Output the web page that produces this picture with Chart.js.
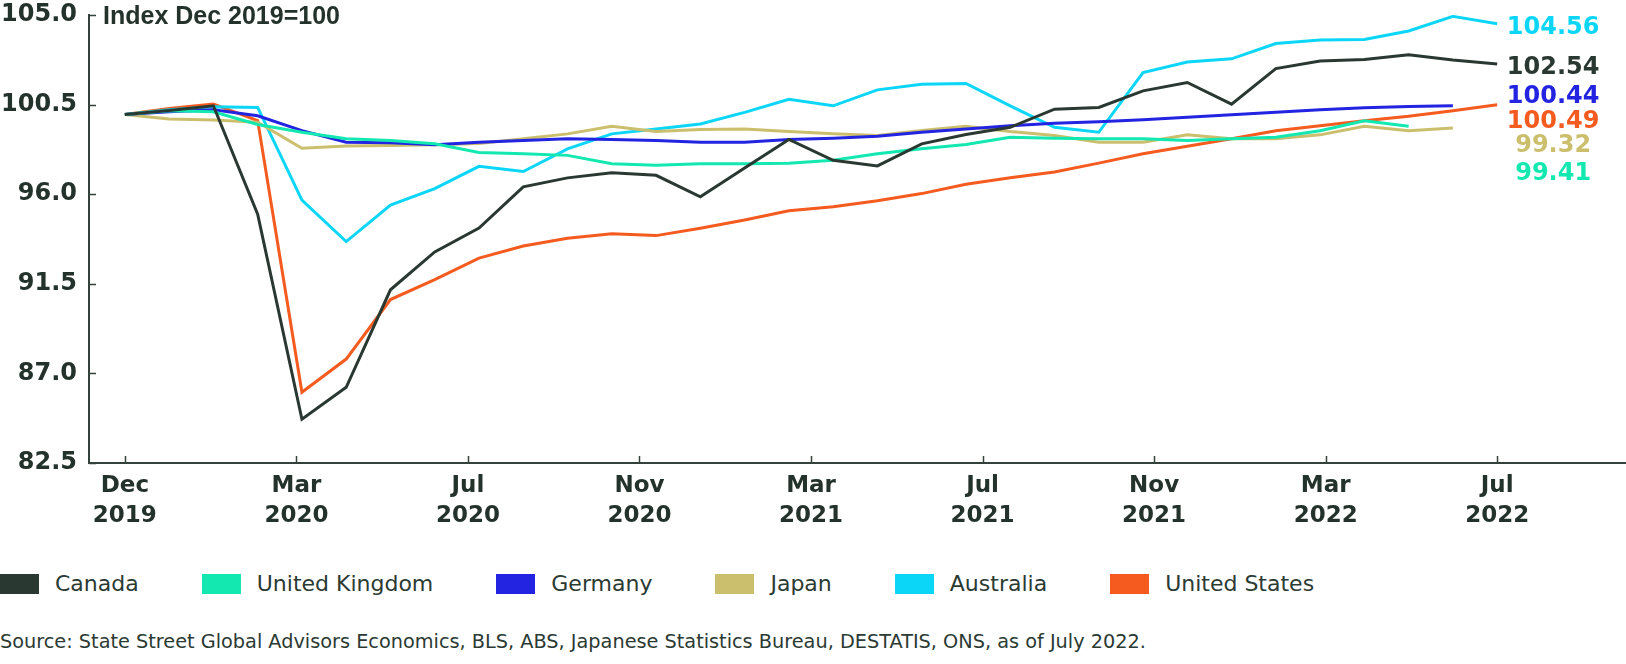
<!DOCTYPE html>
<html>
<head>
<meta charset="utf-8">
<script src="https://cdn.jsdelivr.net/npm/chart.js@4.4.1/dist/chart.umd.min.js"></script>
<style>
    body { margin: 0; background: #ffffff; }
    #wrap { position: relative; width: 1626px; height: 664px; overflow: hidden; font-family: "DejaVu Sans", sans-serif; color: #2b3a33; }
    #chartBox { position: absolute; left: 0; top: -9px; width: 1626px; height: 544px; }
    #legend { position: absolute; left: 0; top: 571px; display: flex; align-items: center; font-size: 22px; }
    .item { display: flex; align-items: center; margin-right: 63px; }
    .swatch { width: 39px; height: 20px; margin-right: 16px; }
    #source { position: absolute; left: 0; top: 630px; font-size: 19.3px; white-space: nowrap; }
</style>
</head>
<body>
<div id="wrap">
    <div id="chartBox"><canvas id="lineChart"></canvas></div>
    <div id="legend"></div>
    <div id="source"></div>
</div>
<script>
// Monthly index, Dec 2019 = 100
const months = [
    'Dec 2019', 'Jan 2020', 'Feb 2020', 'Mar 2020', 'Apr 2020', 'May 2020', 'Jun 2020', 'Jul 2020',
    'Aug 2020', 'Sep 2020', 'Oct 2020', 'Nov 2020', 'Dec 2020', 'Jan 2021', 'Feb 2021', 'Mar 2021',
    'Apr 2021', 'May 2021', 'Jun 2021', 'Jul 2021', 'Aug 2021', 'Sep 2021', 'Oct 2021', 'Nov 2021',
    'Dec 2021', 'Jan 2022', 'Feb 2022', 'Mar 2022', 'Apr 2022', 'May 2022', 'Jun 2022', 'Jul 2022'
];
const tickLabels = [
    ['Dec', '2019'], ['Mar', '2020'], ['Jul', '2020'], ['Nov', '2020'], ['Mar', '2021'],
    ['Jul', '2021'], ['Nov', '2021'], ['Mar', '2022'], ['Jul', '2022']
];
const yTicks = [82.5, 87.0, 91.5, 96.0, 100.5, 105.0];

const seriesNames = ['Canada', 'United Kingdom', 'Germany', 'Japan', 'Australia', 'United States'];
const seriesColors = ['#2a3832', '#12e8b0', '#2323e2', '#cbbf6d', '#0cd6f8', '#f55b1f'];

const canada = [100, 100.2, 100.44, 95.0, 84.7, 86.3, 91.2, 93.1, 94.3, 96.37, 96.82, 97.08, 96.95, 95.87, 97.32, 98.75,
    97.7, 97.42, 98.53, 99.0, 99.36, 100.27, 100.36, 101.19, 101.61, 100.52, 102.31, 102.69, 102.77, 103.0, 102.74, 102.54];
const unitedKingdom = [100, 100.19, 100.14, 99.5, 99.11, 98.78, 98.7, 98.53, 98.1, 98.03, 97.95, 97.53, 97.45, 97.53, 97.53, 97.56,
    97.7, 98.03, 98.28, 98.5, 98.86, 98.81, 98.78, 98.78, 98.7, 98.78, 98.86, 99.19, 99.69, 99.41, null, null];
const germany = [100, 100.14, 100.24, 99.94, 99.19, 98.61, 98.58, 98.48, 98.61, 98.7, 98.78, 98.75, 98.7, 98.61, 98.61, 98.75,
    98.81, 98.91, 99.11, 99.27, 99.44, 99.56, 99.64, 99.74, 99.86, 99.99, 100.11, 100.24, 100.34, 100.41, 100.44, null];
const japan = [100, 99.78, 99.73, 99.61, 98.31, 98.42, 98.45, 98.48, 98.55, 98.78, 99.03, 99.41, 99.15, 99.25, 99.28, 99.15,
    99.03, 98.95, 99.2, 99.41, 99.15, 98.95, 98.61, 98.61, 98.98, 98.78, 98.78, 98.98, 99.41, 99.19, 99.32, null];
const australia = [100, 100.24, 100.39, 100.36, 95.7, 93.62, 95.45, 96.28, 97.4, 97.14, 98.28, 99.03, 99.28, 99.53, 100.11, 100.77,
    100.44, 101.24, 101.52, 101.56, 100.44, 99.36, 99.11, 102.11, 102.64, 102.8, 103.57, 103.74, 103.77, 104.2, 104.93, 104.56];
const unitedStates = [100, 100.31, 100.53, 99.7, 86.05, 87.72, 90.71, 91.71, 92.79, 93.4, 93.79, 94.01, 93.92, 94.29, 94.7, 95.17,
    95.37, 95.67, 96.03, 96.5, 96.83, 97.12, 97.56, 98.03, 98.41, 98.78, 99.19, 99.44, 99.69, 99.91, 100.19, 100.49];

const seriesValues = [canada, unitedKingdom, germany, japan, australia, unitedStates];

const titleText = 'Index Dec 2019=100';
const sourceText = 'Source: State Street Global Advisors Economics, BLS, ABS, Japanese Statistics Bureau, DESTATIS, ONS, as of July 2022.';

const axisColor = '#34423c';
const textColor = '#24322c';

// end-of-line value labels, stacked by hand in the original
const endLabelY = { 'Australia': 25, 'Canada': 65, 'Germany': 94, 'United States': 119, 'Japan': 143, 'United Kingdom': 171 };

function lastValue(arr) {
    for (let i = arr.length - 1; i >= 0; i--) {
        if (arr[i] !== null) return arr[i];
    }
    return null;
}

const insideTicks = {
    id: 'insideTicks',
    afterDraw(chart) {
        const { ctx, chartArea, scales } = chart;
        ctx.save();
        ctx.strokeStyle = axisColor;
        ctx.lineWidth = 1.5;
        ctx.beginPath();
        scales.y.ticks.forEach(t => {
            const y = Math.round(scales.y.getPixelForValue(t.value)) + 0.5;
            ctx.moveTo(chartArea.left, y);
            ctx.lineTo(chartArea.left + 7, y);
        });
        scales.x.ticks.forEach(t => {
            const x = Math.round(scales.x.getPixelForValue(t.value)) + 0.5;
            ctx.moveTo(x, chartArea.bottom);
            ctx.lineTo(x, chartArea.bottom - 7);
        });
        ctx.stroke();

        // chart title next to the top of the y axis
        ctx.fillStyle = textColor;
        ctx.font = 'bold 25px "Liberation Sans", Arial, sans-serif';
        ctx.textAlign = 'left';
        ctx.textBaseline = 'middle';
        ctx.fillText(titleText, chartArea.left + 14, chartArea.top + 2);
        ctx.restore();
    }
};

const endLabels = {
    id: 'endLabels',
    afterDatasetsDraw(chart) {
        const { ctx, chartArea, scales } = chart;
        const x = scales.x.getPixelForValue(months.length - 1) + 56;
        ctx.save();
        ctx.font = 'bold 24px "DejaVu Sans", sans-serif';
        ctx.textAlign = 'center';
        ctx.textBaseline = 'middle';
        seriesNames.forEach((name, i) => {
            ctx.fillStyle = seriesColors[i];
            ctx.fillText(lastValue(seriesValues[i]).toFixed(2), x, chartArea.top + endLabelY[name] - 12);
        });
        ctx.restore();
    }
};

function buildLegend() {
    const legend = document.getElementById('legend');
    legend.innerHTML = seriesNames.map((name, i) =>
        `<div class="item"><div class="swatch" style="background:${seriesColors[i]}"></div><span>${name}</span></div>`
    ).join('');
    document.getElementById('source').textContent = sourceText;
}

function renderChart() {
    const datasets = seriesNames.map((name, i) => ({
        label: name,
        data: months.map((m, k) => ({ x: k, y: seriesValues[i][k] })).filter(p => p.y !== null),
        borderColor: seriesColors[i],
        backgroundColor: seriesColors[i],
        borderWidth: 3,
        pointRadius: 0,
        tension: 0,
        fill: false
    }));

    const ctx = document.getElementById('lineChart').getContext('2d');
    new Chart(ctx, {
        type: 'line',
        data: { datasets: datasets },
        plugins: [insideTicks, endLabels],
        options: {
            responsive: true,
            maintainAspectRatio: false,
            animation: false,
            layout: { padding: 0 },
            plugins: {
                legend: { display: false },
                tooltip: { enabled: false }
            },
            scales: {
                x: {
                    type: 'linear',
                    min: -0.81,
                    max: 33.91,
                    grid: { display: false, drawTicks: false },
                    border: { display: true, color: axisColor, width: 2 },
                    afterBuildTicks: scale => {
                        const n = tickLabels.length - 1;
                        scale.ticks = tickLabels.map((t, i) => ({ value: (months.length - 1) * i / n }));
                    },
                    afterFit: scale => { scale.height = 72; },
                    ticks: {
                        autoSkip: false,
                        maxRotation: 0,
                        padding: 8,
                        color: textColor,
                        font: { family: 'DejaVu Sans', weight: 'bold', size: 23, lineHeight: 1.3 },
                        callback: (value, index) => tickLabels[index]
                    }
                },
                y: {
                    min: 82.5,
                    max: 105,
                    grid: { display: false, drawTicks: false },
                    border: { display: true, color: axisColor, width: 2 },
                    afterBuildTicks: scale => {
                        scale.ticks = yTicks.map(v => ({ value: v }));
                    },
                    afterFit: scale => { scale.width = 89; },
                    ticks: {
                        padding: 12,
                        color: textColor,
                        font: { family: 'DejaVu Sans', weight: 'bold', size: 24, lineHeight: 1 },
                        callback: value => Number(value).toFixed(1)
                    }
                }
            }
        }
    });
}

document.addEventListener('DOMContentLoaded', function () {
    buildLegend();
    renderChart();
});
</script>
</body>
</html>
